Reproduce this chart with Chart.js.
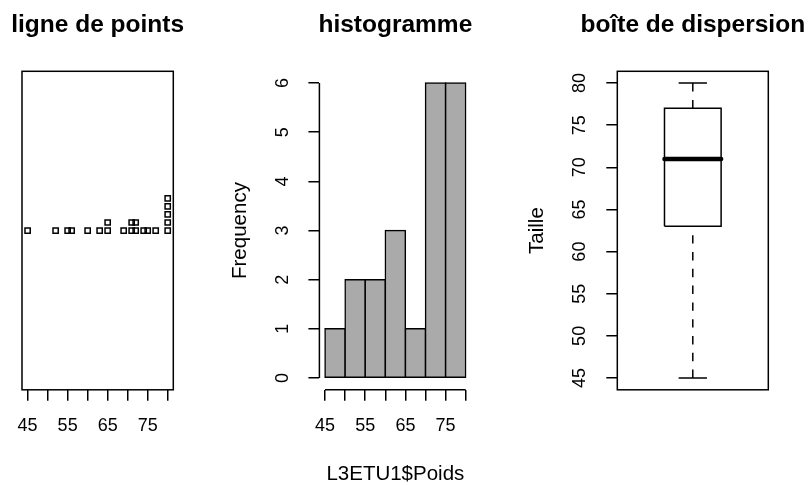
<!DOCTYPE html>
<html lang="fr">
<head>
<meta charset="UTF-8">
<title>L3ETU1 - Poids</title>
<script src="https://cdn.jsdelivr.net/npm/chart.js"></script>
<style>
  html, body { margin: 0; padding: 0; background: #fff; }
  #cadre { position: relative; width: 811px; height: 485px; }
  #cadre canvas { position: absolute; left: 0; top: 0; }
</style>
</head>
<body>
<div id="cadre">
  <canvas id="strip" width="811" height="485"></canvas>
  <canvas id="hist" width="811" height="485"></canvas>
  <canvas id="boite" width="811" height="485"></canvas>
</div>
<script>
// valeurs
const poids = [45, 52, 55, 56, 60, 63, 65, 65, 69, 71, 71, 72, 72, 74, 75, 77, 80, 80, 80, 80, 80];
const histBreaks = [45, 50, 55, 60, 65, 70, 75, 80];
const histCounts = [1, 2, 2, 3, 1, 6, 6];
const boxStats = [45, 63, 71, 77, 80]; // min, Q1, mediane, Q3, max
const xTicks = [45, 50, 55, 60, 65, 70, 75, 80];
const xTickLabels = [45, 55, 65, 75];
const freqTicks = [0, 1, 2, 3, 4, 5, 6];
const tailleTicks = [45, 50, 55, 60, 65, 70, 75, 80];

const FONT = '"Liberation Sans", Arial, Helvetica, sans-serif';
Chart.defaults.font.family = FONT;
Chart.defaults.font.size = 18;
Chart.defaults.color = '#000';
Chart.defaults.animation = false;
Chart.defaults.events = [];
Chart.defaults.plugins.legend.display = false;
Chart.defaults.plugins.tooltip.enabled = false;

const LW = 1.5;
const labFont = { size: 20.5, lineHeight: 1 };

// titre au-dessus de la zone de tracé (comme main= dans R)
const titreR = {
  id: 'titreR',
  afterDraw(chart, args, opts) {
    if (!opts.text) return;
    const { ctx, chartArea } = chart;
    ctx.save();
    ctx.font = 'bold 24.5px ' + FONT;
    ctx.fillStyle = '#000';
    ctx.textAlign = 'center';
    ctx.textBaseline = 'alphabetic';
    ctx.fillText(opts.text, (chartArea.left + chartArea.right) / 2, opts.y);
    ctx.restore();
  }
};
// box() de R
const boxR = {
  id: 'boxR',
  afterDraw(chart, args, opts) {
    if (!opts.display) return;
    const a = chart.chartArea, ctx = chart.ctx;
    ctx.save();
    ctx.strokeStyle = '#000';
    ctx.lineWidth = LW;
    ctx.strokeRect(a.left, a.top, a.right - a.left, a.bottom - a.top);
    ctx.restore();
  }
};
// lignes d'axe limitées aux graduations extrêmes
const axesR = {
  id: 'axesR',
  afterDraw(chart, args, opts) {
    if (!opts.display) return;
    const { ctx, scales: { x, y } } = chart;
    ctx.save();
    ctx.strokeStyle = '#000';
    ctx.lineWidth = LW;
    ctx.beginPath();
    ctx.moveTo(x.getPixelForValue(xTicks[0]), x.top);
    ctx.lineTo(x.getPixelForValue(xTicks[xTicks.length - 1]), x.top);
    ctx.moveTo(y.right, y.getPixelForValue(freqTicks[0]));
    ctx.lineTo(y.right, y.getPixelForValue(freqTicks[freqTicks.length - 1]));
    ctx.stroke();
    ctx.restore();
  }
};
Chart.register(titreR, boxR, axesR);

function fixSize(prop, size) {
  return function (scale) {
    scale[prop] = size;
    scale.paddingLeft = scale.paddingRight = scale.paddingTop = scale.paddingBottom = 0;
  };
}
function setTicks(values) {
  return function (scale) { scale.ticks = values.map(v => ({ value: v })); };
}
const gridR = { display: true, drawOnChartArea: false, drawTicks: true, tickLength: 11, color: '#000', lineWidth: LW, offset: false };

// zone de tracé commune (px)
const TOP = 71.3, BOTTOM = 389.8, H = 485, W = 811;

// ---------- ligne de points (stripchart, method = "stack")
const pas = 0.0505;
const compte = {};
const pointsStrip = poids.map(v => {
  const k = compte[v] || 0;
  compte[v] = k + 1;
  return { x: v, y: 1 + k * pas };
});

new Chart(document.getElementById('strip'), {
  type: 'scatter',
  data: {
    datasets: [{
      data: pointsStrip,
      pointStyle: 'rect',
      pointRadius: 3.7,
      pointBorderWidth: LW,
      pointBorderColor: '#000',
      pointBackgroundColor: 'rgba(0,0,0,0)'
    }]
  },
  options: {
    responsive: false,
    devicePixelRatio: 1,
    layout: { padding: { left: 22, right: W - 173.3, top: TOP, bottom: H - BOTTOM - 60 } },
    scales: {
      x: {
        type: 'linear', min: 43.6, max: 81.4,
        afterBuildTicks: setTicks(xTicks),
        afterFit: fixSize('height', 60),
        grid: gridR,
        border: { display: false },
        ticks: { autoSkip: false, maxRotation: 0, padding: 14.4, callback: v => xTickLabels.includes(v) ? String(v) : '' }
      },
      y: { display: false, min: 0, max: 2 }
    },
    plugins: {
      titreR: { text: 'ligne de points', y: 32 },
      boxR: { display: true }
    }
  }
});

// ---------- histogramme
const milieux = histBreaks.slice(0, -1).map((b, i) => (b + histBreaks[i + 1]) / 2);

new Chart(document.getElementById('hist'), {
  type: 'bar',
  data: {
    datasets: [{
      data: milieux.map((m, i) => ({ x: m, y: histCounts[i] })),
      backgroundColor: '#aaaaaa',
      borderColor: '#000',
      borderWidth: LW,
      inflateAmount: LW / 2,
      borderSkipped: false,
      barPercentage: 1,
      categoryPercentage: 1
    }]
  },
  options: {
    responsive: false,
    devicePixelRatio: 1,
    layout: { padding: { left: 229.75, right: W - 471.3, top: TOP, bottom: 0.75 } },
    scales: {
      x: {
        type: 'linear', min: 43.6, max: 81.4, offset: false,
        afterBuildTicks: setTicks(xTicks),
        afterFit: fixSize('height', H - 0.75 - BOTTOM),
        grid: gridR,
        border: { display: false },
        ticks: { autoSkip: false, maxRotation: 0, padding: 14.4, callback: v => xTickLabels.includes(v) ? String(v) : '' },
        title: { display: true, text: 'L3ETU1$Poids', padding: 0, font: labFont }
      },
      y: {
        type: 'linear', min: -0.24, max: 6.24, beginAtZero: false,
        afterBuildTicks: setTicks(freqTicks),
        afterFit: fixSize('width', 319.4 - 229.75),
        grid: gridR,
        border: { display: false },
        ticks: { autoSkip: false, minRotation: 90, maxRotation: 90, crossAlign: 'center', padding: 20.1 },
        title: { display: true, text: 'Frequency', padding: 0, font: labFont }
      }
    },
    plugins: {
      titreR: { text: 'histogramme', y: 32 },
      axesR: { display: true }
    }
  }
});

// ---------- boîte de dispersion
const demi = 0.1875, demiMoust = demi / 2;
const trait = (pts, extra) => Object.assign({
  data: pts, showLine: true, pointRadius: 0, borderColor: '#000', borderWidth: LW, fill: false, tension: 0
}, extra || {});
const [bMin, bQ1, bMed, bQ3, bMax] = boxStats;

new Chart(document.getElementById('boite'), {
  type: 'scatter',
  data: {
    datasets: [
      trait([{ x: 1, y: bMin }, { x: 1, y: bQ1 }], { borderDash: [8.4, 8.4] }),
      trait([{ x: 1, y: bMax }, { x: 1, y: bQ3 }], { borderDash: [8.4, 8.4] }),
      trait([{ x: 1 - demiMoust, y: bMin }, { x: 1 + demiMoust, y: bMin }]),
      trait([{ x: 1 - demiMoust, y: bMax }, { x: 1 + demiMoust, y: bMax }]),
      trait([{ x: 1 - demi, y: bQ1 }, { x: 1 + demi, y: bQ1 }, { x: 1 + demi, y: bQ3 },
             { x: 1 - demi, y: bQ3 }, { x: 1 - demi, y: bQ1 }]),
      trait([{ x: 1 - demi, y: bMed }, { x: 1 + demi, y: bMed }], { borderWidth: 4.5, borderCapStyle: 'round' })
    ]
  },
  options: {
    responsive: false,
    devicePixelRatio: 1,
    layout: { padding: { left: 526.75, right: W - 768.3, top: TOP, bottom: H - BOTTOM } },
    scales: {
      x: { type: 'linear', display: false, min: 0.5, max: 1.5 },
      y: {
        type: 'linear', min: 43.6, max: 81.4,
        afterBuildTicks: setTicks(tailleTicks),
        afterFit: fixSize('width', 617.3 - 526.75),
        grid: gridR,
        border: { display: false },
        ticks: { autoSkip: false, minRotation: 90, maxRotation: 90, crossAlign: 'center', padding: 16 },
        title: { display: true, text: 'Taille', padding: 0, font: labFont }
      }
    },
    plugins: {
      titreR: { text: 'boîte de dispersion', y: 32 },
      boxR: { display: true }
    }
  }
});
</script>
</body>
</html>
